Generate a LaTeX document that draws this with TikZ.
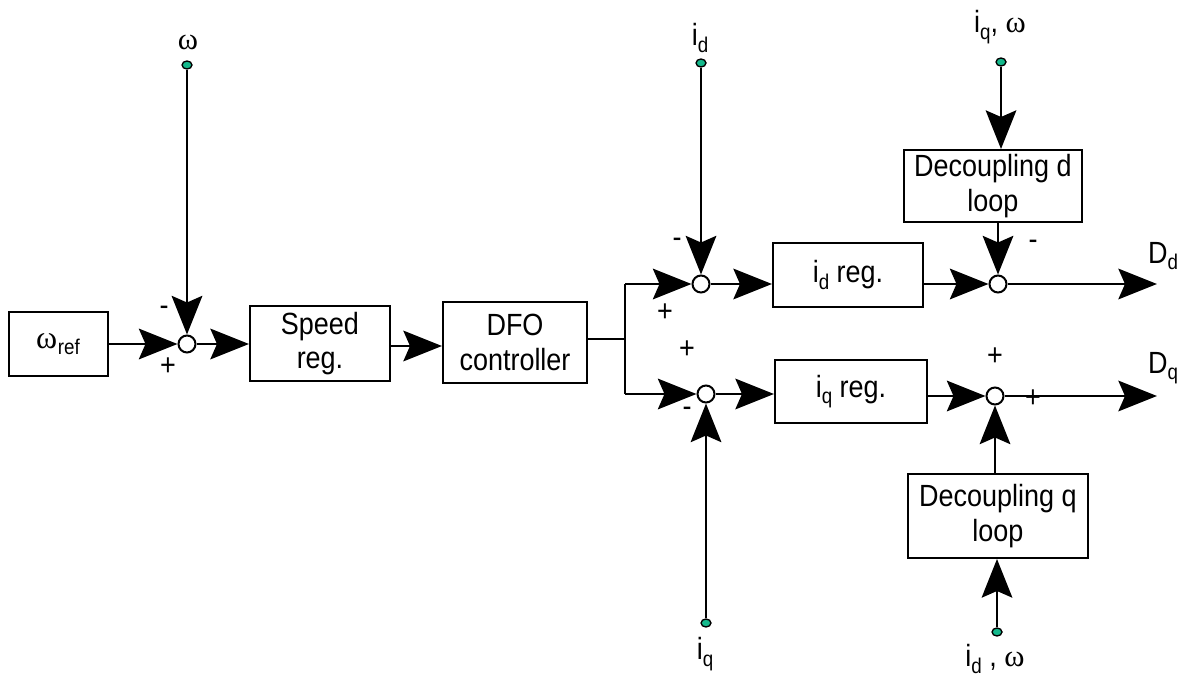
\documentclass[tikz,border=0pt]{standalone}
\usepackage{fontspec}
\setmainfont[FakeStretch=0.88]{Liberation Sans}
\newfontfamily\omf{Liberation Serif}
\usetikzlibrary{arrows.meta,shapes.geometric}
\definecolor{dotcol}{RGB}{20,185,140}
\newcommand\sbs[1]{\raisebox{-0.4ex}{\fontsize{16}{16}\selectfont #1}}
\begin{document}
\begin{tikzpicture}[x=0.75pt,y=-0.75pt,
  every node/.style={font=\fontsize{23}{26}\selectfont},
  blk/.style={draw,line width=1.5pt,inner sep=0pt,align=center},
  sumc/.style={draw,circle,line width=1.5pt,fill=white,minimum size=12.75pt,inner sep=0pt},
  indot/.style={draw,ellipse,line width=1pt,fill=dotcol,minimum width=7.5pt,minimum height=6pt,inner sep=0pt},
  wire/.style={line width=1.5pt},
  arr/.style={line width=1.5pt,-{Stealth[length=29pt,width=23pt,inset=5pt]}},
  lbl/.style={inner sep=0pt}]
\useasboundingbox (0,0) rectangle (1186,677);
% blocks
\node[blk,minimum width=74.25pt,minimum height=48pt] (wref) at (58,344) {{\omf\fontsize{24}{24}\selectfont ω}\hspace{0.02em}\sbs{ref}};
\node[blk,minimum width=105pt,minimum height=56.25pt] (spd) at (320,343.5) {Speed\\reg.};
\node[blk,minimum width=108pt,minimum height=60.75pt] (dfo) at (515,342.5) {DFO\\controller};
\node[blk,minimum width=112.5pt,minimum height=48pt] (idr) at (848,275) {i\sbs{d} reg.};
\node[blk,minimum width=114pt,minimum height=47.25pt] (iqr) at (851,391.5) {i\sbs{q} reg.};
\node[blk,minimum width=133.5pt,minimum height=54pt] (decd) at (993,186) {Decoupling d\\loop};
\node[blk,minimum width=135pt,minimum height=63pt] (decq) at (998,516) {Decoupling q\\loop};
% summing points
\node[sumc] (s1) at (187,344) {};
\node[sumc] (sd) at (701,284) {};
\node[sumc] (sq) at (706,394) {};
\node[sumc] (sdd) at (998,284) {};
\node[sumc] (sqq) at (995,396) {};
% input dots
\node[indot] (pw) at (187,65) {};
\node[indot] (pid) at (701,63) {};
\node[indot] (piq) at (706,623) {};
\node[indot] (piqw) at (1001,62) {};
\node[indot] (pidw) at (997,632) {};
% coordinates
\coordinate (j) at (625,339);
\coordinate (jt) at (625,284);
\coordinate (jb) at (625,394);
\coordinate (dd) at (1157,284);
\coordinate (dq) at (1157,396);
% labels
\node[lbl] (lw) at (188,42) {\omf\fontsize{23}{23}\selectfont ω};
\node[lbl] (lid) at (700,38) {i\sbs{d}};
\node[lbl] (liq) at (705,654) {i\sbs{q}};
\node[lbl] (liqw) at (1000,27) {i\sbs{q}, {\omf ω}};
\node[lbl] (lidw) at (995,659) {i\sbs{d} , {\omf ω}};
\node[lbl] (ldd) at (1163,256) {D\sbs{d}};
\node[lbl] (ldq) at (1163,368) {D\sbs{q}};
\node[lbl] (m1) at (164,311) {-};
\node[lbl] (p1) at (168,367) {+};
\node[lbl] (m2) at (677,243) {-};
\node[lbl] (p2) at (665,313) {+};
\node[lbl] (p3) at (687,350) {+};
\node[lbl] (m3) at (687,412) {-};
\node[lbl] (m4) at (1033,245) {-};
\node[lbl] (p4) at (995,357) {+};
\node[lbl] (p5) at (1033,399) {+};
% connectors
\draw[arr] (wref.east |- s1) -- (s1.west);
\draw[arr] (pw) -- (s1.north);
\draw[arr] (s1.east) -- (s1 -| spd.west);
\draw[arr] (spd.east |- 0,346) -- (dfo.west |- 0,346);
\draw[wire] (dfo.east |- j) -- (j);
\draw[wire] (jt) -- (jb);
\draw[arr] (jt) -- (sd.west);
\draw[arr] (jb) -- (sq.west);
\draw[arr] (pid) -- (sd.north);
\draw[arr] (piq) -- (sq.south);
\draw[arr] (sd.east) -- (sd -| idr.west);
\draw[arr] (sq.east) -- (sq -| iqr.west);
\draw[arr] (sdd -| idr.east) -- (sdd.west);
\draw[arr] (sqq -| iqr.east) -- (sqq.west);
\draw[arr] (piqw) -- (piqw |- decd.north);
\draw[arr] (sdd |- decd.south) -- (sdd.north);
\draw[arr] (sqq |- decq.north) -- (sqq.south);
\draw[arr] (pidw) -- (pidw |- decq.south);
\draw[arr] (sdd.east) -- (dd);
\draw[arr] (sqq.east) -- (dq);
\end{tikzpicture}
\end{document}
